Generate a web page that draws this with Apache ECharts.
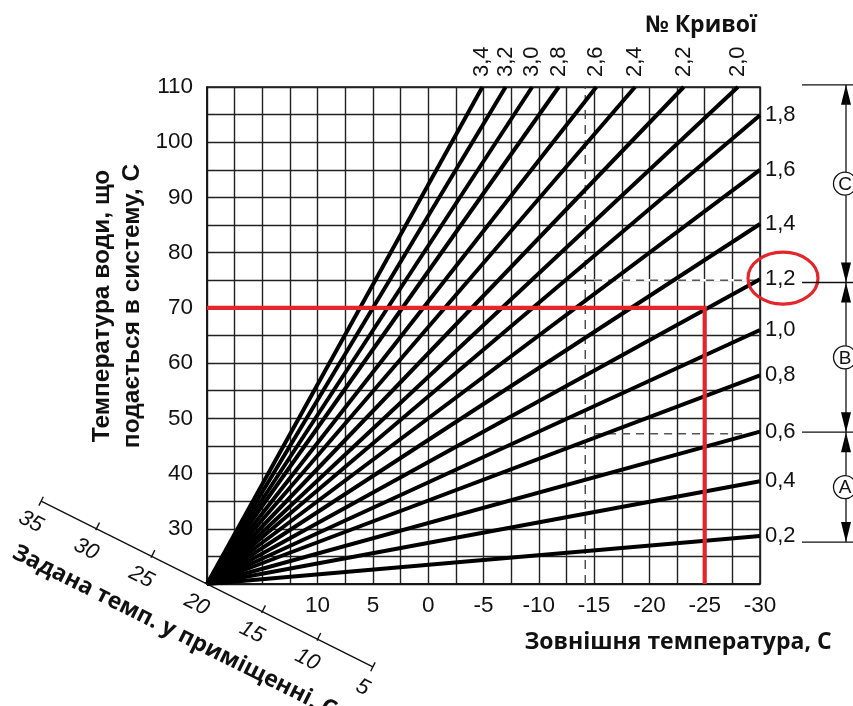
<!DOCTYPE html>
<html><head><meta charset="utf-8">
<script src="https://cdn.jsdelivr.net/npm/echarts@6.0.0/dist/echarts.min.js"></script>
<style>html,body{margin:0;padding:0;background:#fff}#c{width:853px;height:706px}</style>
</head><body><div id="c"></div>
<script>
// ---- data ----
const curveNames = ['0,2','0,4','0,6','0,8','1,0','1,2','1,4','1,6','1,8','2,0','2,2','2,4','2,6','2,8','3,0','3,2','3,4'];
const curveEndOutdoor = [-30,-30,-30,-30,-30,-30,-30,-30,-30,-28,-23.1,-18.7,-15.2,-11.8,-9.4,-7,-4.9];
const curveEndFlow = [28.7,38.6,47.6,57.8,66,75.2,85.2,95,104.9,110,110,110,110,110,110,110,110];
const originPoint = [20,20];
const xTickLabels = [10,5,0,-5,-10,-15,-20,-25,-30];
const yTickLabels = [30,40,50,60,70,80,90,100,110];
const roomTemps = [35,30,25,20,15,10,5];
const redOutdoor = -25;
const redFlow = 70;
const dashOutdoor = -14.2;
const dashFromOutdoor = -15;
const dashFlows = [75, 47.2];
const zoneBounds = [110.4, 74.6, 47.5, 27.6];
const zoneLetters = ['C','B','A'];
const highlightCurve = '1,2';

const TXT = '#111';
const NUMFONT = 'Liberation Sans';
const TITLEFONT = 'Open Sans';

const chart = echarts.init(document.getElementById('c'), null, {renderer:'canvas'});
const series = [];

// curves
curveNames.forEach((name,i)=>{
  series.push({type:'line', name, data:[originPoint,[curveEndOutdoor[i],curveEndFlow[i]]],
    symbol:'none', clip:false, silent:true, animation:false, z:4,
    lineStyle:{color:'#000', width:4}});
});
// dashed guides
series.push({type:'line', data:[[dashOutdoor,20],[dashOutdoor,110]], symbol:'none', silent:true, animation:false, z:3,
  lineStyle:{color:'#444', width:1.4, type:[9,6]}});
series.push({type:'line', data:[[dashFromOutdoor,dashFlows[0]],[-30,dashFlows[0]]], symbol:'none', silent:true, animation:false, z:2,
  lineStyle:{color:'#fff', width:2.5}});
dashFlows.forEach(f=>{
  series.push({type:'line', data:[[dashFromOutdoor,f],[-30,f]], symbol:'none', silent:true, animation:false, z:3,
    lineStyle:{color:'#555', width:1.4, type:[8,6]}});
});
// red guide
series.push({type:'line', data:[[20,redFlow],[redOutdoor,redFlow],[redOutdoor,20]], symbol:'none', silent:true, animation:false, z:6, clip:false,
  lineStyle:{color:'#e3262b', width:4.2, join:'miter'}});

// curve labels + highlight ellipse
series.push({type:'custom', clip:false, silent:true, animation:false, z:7,
  data: curveNames.map((n,i)=>[curveEndOutdoor[i], curveEndFlow[i], i]),
  encode:{x:0,y:1},
  renderItem(params, api){
    const i = api.value(2);
    const p = api.coord([api.value(0), api.value(1)]);
    const children = [];
    if (curveEndFlow[i] >= 110) {
      children.push({type:'text', x:p[0], y:p[1]-10, rotation:Math.PI/2,
        style:{text:curveNames[i], fill:TXT, fontSize:22, fontFamily:NUMFONT, align:'left', verticalAlign:'middle', textAlign:'left', textVerticalAlign:'middle'}});
    } else {
      children.push({type:'text', x:p[0]+5, y:p[1], 
        style:{text:curveNames[i], fill:TXT, fontSize:22, fontFamily:NUMFONT, align:'left', verticalAlign:'middle', textAlign:'left', textVerticalAlign:'middle'}});
    }
    if (curveNames[i] === highlightCurve) {
      children.push({type:'ellipse', shape:{cx:p[0]+23, cy:p[1]-1, rx:35, ry:26},
        style:{fill:'none', stroke:'#e3262b', lineWidth:3.2}});
    }
    return {type:'group', children};
  }
});

// diagonal axis line, ticks, labels & title
series.push({type:'custom', clip:false, silent:true, animation:false, z:7,
  data: roomTemps.map(t=>[t,t]),
  encode:{x:0,y:1},
  renderItem(params, api){
    const t = api.value(0);
    const p = api.coord([t,t]);
    const a = api.coord([roomTemps[0],roomTemps[0]]);
    const b = api.coord([roomTemps[roomTemps.length-1],roomTemps[roomTemps.length-1]]);
    let dx=b[0]-a[0], dy=b[1]-a[1]; const L=Math.hypot(dx,dy); dx/=L; dy/=L;
    const nx=dy, ny=-dx;
    const rot = -Math.atan2(dy,dx);
    const isEnd = params.dataIndex===0 || params.dataIndex===roomTemps.length-1;
    const children = [];
    if (params.dataIndex===0) {
      children.push({type:'line', shape:{x1:a[0], y1:a[1], x2:b[0], y2:b[1]}, style:{stroke:TXT, lineWidth:1.4}});
    }
    if (t !== originPoint[0]) {
      const s1 = isEnd?5:1.5, s2 = isEnd?5:7;
      children.push({type:'line', shape:{x1:p[0]-nx*s1, y1:p[1]-ny*s1, x2:p[0]+nx*s2, y2:p[1]+ny*s2},
        style:{stroke:TXT, lineWidth:1.4}});
    }
    children.push({type:'text', x:p[0]-nx*23, y:p[1]-ny*23, rotation:rot,
      style:{text:String(t), fill:TXT, fontSize:22, fontStyle:'italic', fontFamily:NUMFONT, align:'center', verticalAlign:'middle', textAlign:'center', textVerticalAlign:'middle'}});
    if (t === originPoint[0]) {
      children.push({type:'text', x:p[0]-dx*8-nx*57, y:p[1]-dy*8-ny*57, rotation:rot,
        style:{text:'Задана темп. у приміщенні, С', fill:TXT, fontSize:23, fontWeight:'bold', fontFamily:TITLEFONT, align:'center', verticalAlign:'middle', textAlign:'center', textVerticalAlign:'middle'}});
    }
    return {type:'group', children};
  }
});

// right-hand zone annotation
series.push({type:'custom', clip:false, silent:true, animation:false, z:7,
  data: zoneBounds.map((v,i)=>[-30, v, i]),
  encode:{x:0,y:1},
  renderItem(params, api){
    const i = api.value(2);
    const p = api.coord([-30, api.value(1)]);
    const lx = p[0]+86;
    const children = [];
    children.push({type:'line', shape:{x1:p[0]+42, y1:p[1], x2:p[0]+100, y2:p[1]}, style:{stroke:TXT, lineWidth:1.3}});
    const AL=20, AW=5;
    if (i>0) children.push({type:'polygon', shape:{points:[[lx,p[1]],[lx-AW,p[1]-AL],[lx+AW,p[1]-AL]]}, style:{fill:'#000'}});
    if (i<zoneBounds.length-1) {
      const q = api.coord([-30, zoneBounds[i+1]]);
      children.push({type:'polygon', shape:{points:[[lx,p[1]],[lx-AW,p[1]+AL],[lx+AW,p[1]+AL]]}, style:{fill:'#000'}});
      children.push({type:'line', shape:{x1:lx, y1:p[1], x2:lx, y2:q[1]}, style:{stroke:TXT, lineWidth:1.3}});
      const my = (p[1]+q[1])/2;
      children.push({type:'circle', shape:{cx:lx-1, cy:my, r:11.5}, style:{fill:'#fff', stroke:TXT, lineWidth:1.3}});
      children.push({type:'text', x:lx-1, y:my+1, style:{text:zoneLetters[i], fill:TXT, fontSize:19, fontFamily:NUMFONT, align:'center', verticalAlign:'middle', textAlign:'center', textVerticalAlign:'middle'}});
    }
    return {type:'group', children};
  }
});

const option = {
  animation:false,
  backgroundColor:'#fff',
  grid:{left:207, top:87, right:93, bottom:122, show:true, borderColor:'#111', borderWidth:1.5, backgroundColor:'transparent'},
  xAxis:{type:'value', min:-30, max:20, inverse:true, interval:2.5,
    axisLine:{show:true, onZero:false, lineStyle:{color:'#111', width:1.5}},
    axisTick:{show:false},
    splitLine:{show:true, lineStyle:{color:'#222', width:1.4}},
    axisLabel:{margin:10, fontSize:22.5, color:TXT, fontFamily:NUMFONT,
      formatter:v=> xTickLabels.indexOf(v)>=0 ? String(v) : ''}},
  yAxis:{type:'value', min:20, max:110, interval:5,
    axisLine:{show:true, onZero:false, lineStyle:{color:'#111', width:1.5}},
    axisTick:{show:false},
    splitLine:{show:true, lineStyle:{color:'#222', width:1.4}},
    axisLabel:{margin:14, fontSize:22.5, color:TXT, fontFamily:NUMFONT,
      formatter:v=> yTickLabels.indexOf(v)>=0 ? String(v) : ''}},
  graphic:[
    {type:'text', x:678, y:642, style:{text:'Зовнішня температура, С', fill:TXT, fontSize:23, fontWeight:'bold', fontFamily:TITLEFONT, align:'center', verticalAlign:'middle', textAlign:'center', textVerticalAlign:'middle'}},
    {type:'text', x:701, y:25, style:{text:'№ Кривої', fill:TXT, fontSize:23, fontWeight:'bold', fontFamily:TITLEFONT, align:'center', verticalAlign:'middle', textAlign:'center', textVerticalAlign:'middle'}},
    {type:'text', x:117, y:306, rotation:Math.PI/2, style:{text:'Температура води, що\nподається в систему, С', fill:TXT, fontSize:24.5, fontWeight:'bold', fontFamily:NUMFONT, lineHeight:30, align:'center', verticalAlign:'middle', textAlign:'center', textVerticalAlign:'middle'}}
  ],
  series
};
chart.setOption(option);
</script>
</body></html>
